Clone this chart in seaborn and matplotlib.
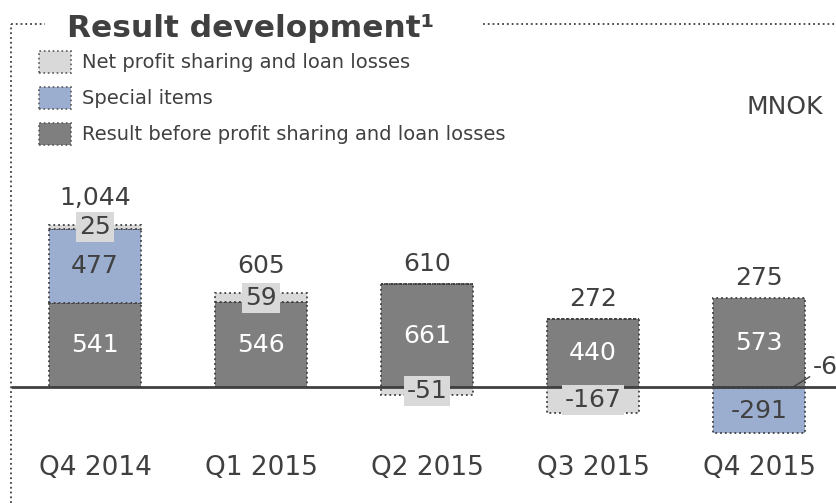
import numpy as np
import matplotlib
matplotlib.use("Agg")
import matplotlib.pyplot as plt
import seaborn as sns
from matplotlib.lines import Line2D
from matplotlib.patches import Rectangle

# data (MNOK)
quarters = ["Q4 2014", "Q1 2015", "Q2 2015", "Q3 2015", "Q4 2015"]
result_before = np.array([541, 546, 661, 440, 573])
special_items = np.array([477, 0, 0, 0, -291])
net_profit = np.array([25, 59, -51, -167, -6])
totals = ["1,044", "605", "610", "272", "275"]

legend_labels = ["Net profit sharing and loan losses", "Special items",
                 "Result before profit sharing and loan losses"]

c_dark = "#7f7f7f"
c_blue = "#9caed0"
c_light = "#d9d9d9"
c_text = "#404040"
c_edge = "#404040"

sns.set_style("white")
plt.rcParams["font.family"] = ["DejaVu Sans"]

W, H = 837, 503
fig = plt.figure(figsize=(W / 100, H / 100), dpi=100)
ax = fig.add_axes([0, 0, 1, 1])

# stacking: positives go up from result, negatives go down (net first, then special)
net_neg = np.minimum(net_profit, 0)
special_bottom = np.where(special_items >= 0, result_before, net_neg)
net_bottom = np.where(net_profit >= 0, result_before + np.maximum(special_items, 0), 0)

bar_kw = dict(width=0.554, saturation=1, errorbar=None, edgecolor=c_edge,
              linestyle=":", linewidth=1.3, ax=ax)
sns.barplot(x=quarters, y=result_before, color=c_dark, **bar_kw)
sns.barplot(x=quarters, y=special_items, bottom=special_bottom, color=c_blue, **bar_kw)
sns.barplot(x=quarters, y=net_profit, bottom=net_bottom, color=c_light, **bar_kw)

ax.set_xlim(-0.572, 4.470)
ax.set_ylim(-747, 2492)
ax.axis("off")
ax.axhline(0, xmin=12 / W, xmax=1, color=c_edge, lw=2)

px = 0.72  # points per pixel at dpi 100
for i, q in enumerate(quarters):
    r, s, n = result_before[i], special_items[i], net_profit[i]
    ax.text(i, r / 2, str(r), ha="center", va="center", color="white", fontsize=18)
    if s != 0:
        ax.text(i, special_bottom[i] + s / 2, str(s), ha="center", va="center",
                color=c_text, fontsize=18)
    if abs(n) < 10:
        ax.annotate(str(n), xy=(i + 0.205, 0), xytext=(20 * px, 20 * px),
                    textcoords="offset points", ha="left", va="center",
                    color=c_text, fontsize=18,
                    arrowprops=dict(arrowstyle="-", color=c_edge, lw=1,
                                    shrinkA=0, shrinkB=0))
    else:
        ax.text(i, net_bottom[i] + n / 2, str(n), ha="center", va="center",
                color=c_text, fontsize=18,
                bbox=dict(boxstyle="square,pad=0.12", fc=c_light, ec="none"))
    top = r + max(s, 0) + max(n, 0)
    off = 27 if n > 0 else 20
    ax.annotate(totals[i], xy=(i, top), xytext=(0, off * px), textcoords="offset points",
                ha="center", va="center", color=c_text, fontsize=18)
    ax.text(i, 1 - 468 / H, q, transform=ax.get_xaxis_transform(),
            ha="center", va="center", color=c_text, fontsize=19)

# dotted frame around the slide block
frame_kw = dict(color=c_edge, lw=1.3, linestyle=":", transform=fig.transFigure)
fig.add_artist(Line2D([11 / W, 11 / W], [0, 1 - 24 / H], **frame_kw))
fig.add_artist(Line2D([11 / W, 45 / W], [1 - 24 / H, 1 - 24 / H], **frame_kw))
fig.add_artist(Line2D([483 / W, 1], [1 - 24 / H, 1 - 24 / H], **frame_kw))

fig.text(67 / W, 1 - 37 / H, "Result development\u00b9", fontsize=22.5, fontweight="bold",
         color=c_text, va="baseline", ha="left")
fig.text(823 / W, 1 - 107 / H, "MNOK", fontsize=18, color=c_text, ha="right", va="center")

# legend drawn by hand
for j, (lab, col) in enumerate(zip(legend_labels, [c_light, c_blue, c_dark])):
    yc = 62 + 36 * j
    fig.add_artist(Rectangle((39 / W, 1 - (yc + 11) / H), 32 / W, 22 / H,
                             transform=fig.transFigure, fc=col, ec="#595959",
                             lw=1.2, linestyle=":"))
    fig.text(82 / W, 1 - yc / H, lab, fontsize=14, color=c_text, ha="left", va="center")

fig.savefig("out.png", dpi=100)
